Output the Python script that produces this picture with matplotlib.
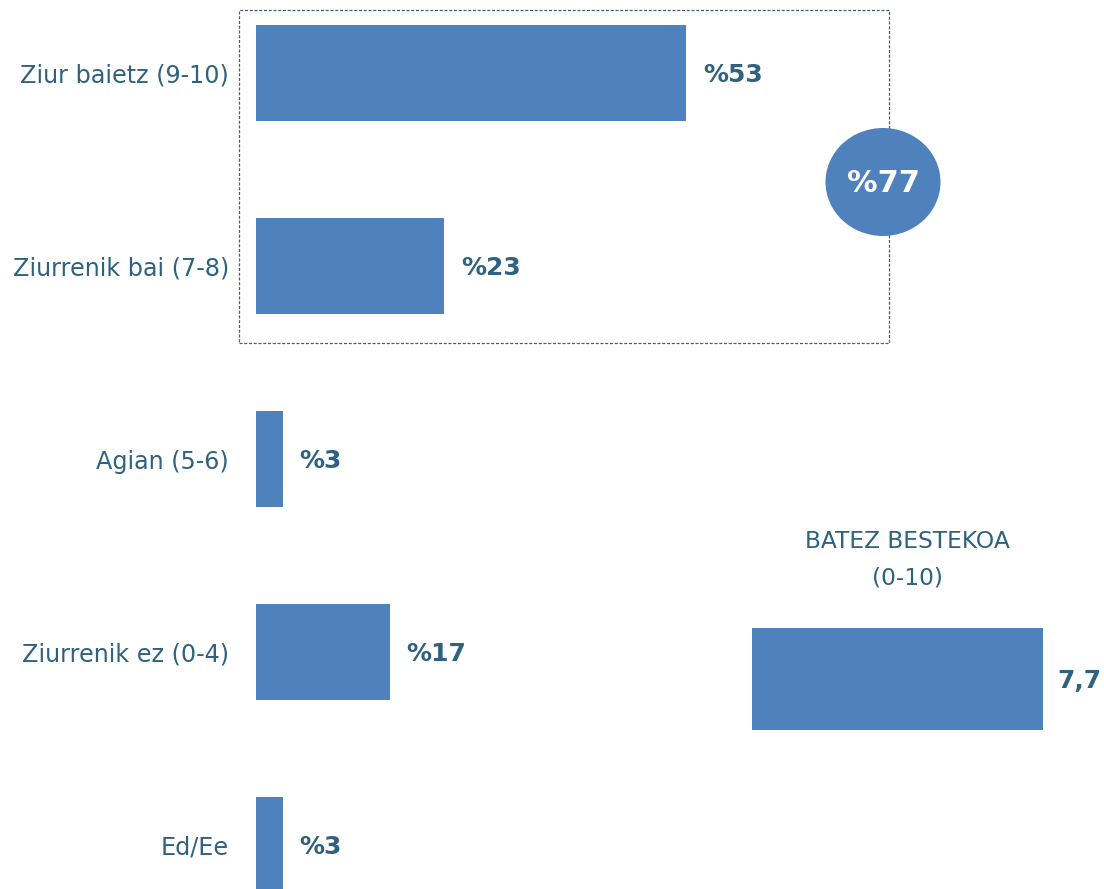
import matplotlib
matplotlib.use("Agg")
import matplotlib.pyplot as plt
from matplotlib.patches import Rectangle, Ellipse

# ---- data ----
categories = ["Ziur baietz (9-10)", "Ziurrenik bai (7-8)", "Agian (5-6)",
              "Ziurrenik ez (0-4)", "Ed/Ee"]
values = [53.4, 23.4, 3.3, 16.6, 3.3]
mean_title = "BATEZ BESTEKOA\n(0-10)"
mean_value = 7.7

BAR = "#4F81BD"
TXT = "#2F6180"
W, H = 1104, 889
plt.rcParams['font.family'] = ['DejaVu Sans']

fig = plt.figure(figsize=(W / 100, H / 100), dpi=100)

# ---- main bar chart ----
px_per_unit = 8.05
ax = fig.add_axes([256 / W, 0, (889 - 256) / W, 1])
pos = list(range(len(categories)))
ax.barh(pos, values, height=96 / 193, color=BAR, zorder=2)
ax.set_xlim(0, (889 - 256) / px_per_unit)
ax.set_ylim((H - 73) / 193, -73 / 193)
ax.set_yticks(pos)
ax.set_yticklabels(categories, fontsize=17.2, color=TXT)
ax.tick_params(axis='y', length=0, pad=19.5)
ax.set_xticks([])
for s in ax.spines.values():
    s.set_visible(False)
ax.patch.set_alpha(0)
for p, v in zip(pos, values):
    ax.annotate(f"%{round(v)}", xy=(v, p), xytext=(12.2, -1.5),
                textcoords="offset points", ha="left", va="center",
                fontsize=18, fontweight="bold", color=TXT)

# dashed group box
fig.patches.append(Rectangle((239 / W, 1 - 343 / H), (889 - 239) / W, (343 - 10) / H,
                             transform=fig.transFigure, fill=False,
                             edgecolor="#4A5A70", linewidth=0.9,
                             linestyle=(0, (2.4, 1.4)), zorder=1))
# total circle
fig.patches.append(Ellipse((883 / W, 1 - 182 / H), 115 / W, 108 / H,
                           transform=fig.transFigure, facecolor=BAR,
                           edgecolor="none", zorder=3))
total = round(values[0] + values[1])
fig.text(883 / W, 1 - 184 / H, f"%{total}", ha="center", va="center",
         fontsize=22, fontweight="bold", color="white", zorder=4)

# ---- mean bar ----
s2 = 291 / mean_value
ax2 = fig.add_axes([752 / W, 1 - 730 / H, (W - 752) / W, 102 / H])
ax2.barh([0], [mean_value], height=1.0, color=BAR)
ax2.set_xlim(0, (W - 752) / s2)
ax2.set_ylim(-0.5, 0.5)
ax2.axis("off")
ax2.annotate(f"{mean_value}".replace(".", ","), xy=(mean_value, 0), xytext=(10, -1.5),
             textcoords="offset points", ha="left", va="center",
             fontsize=18, fontweight="bold", color=TXT)
fig.text(907 / W, 1 - 560 / H, mean_title, ha="center", va="center",
         fontsize=16.8, color=TXT, linespacing=1.75)

fig.savefig("out.png", dpi=100)
